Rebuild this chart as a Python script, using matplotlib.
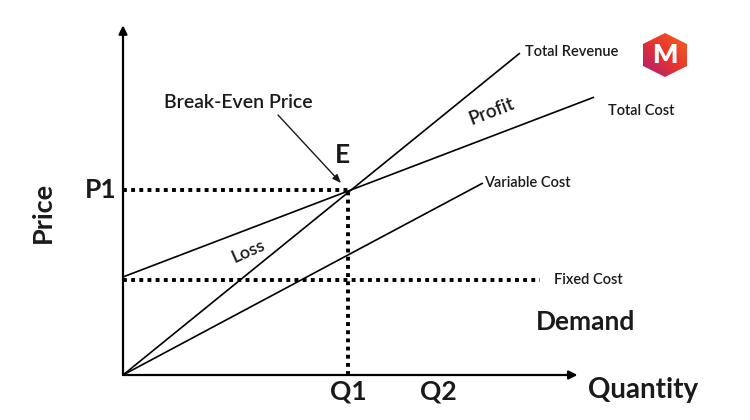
import numpy as np
import matplotlib
matplotlib.use("Agg")
import matplotlib.pyplot as plt
from matplotlib.patches import Polygon
from matplotlib.colors import LinearSegmentedColormap

# ---- data (quantity units, price units) ----
total_revenue_q = [0.0, 8.82]
total_revenue_p = [0.0, 8.70]
total_cost_q = [0.0, 10.47]
total_cost_p = [2.65, 7.51]
variable_cost_q = [0.0, 8.00]
variable_cost_p = [0.0, 5.19]
fixed_cost_value = 2.57
fixed_cost_end_q = 9.27
break_even_q = 5.0
break_even_p = 5.0
q_tick_values = [5.0, 7.0]
q_tick_labels = ["Q1", "Q2"]
p_tick_values = [5.0]
p_tick_labels = ["P1"]
x_axis_end = 10.1
y_axis_end = 9.45

plt.rcParams['font.family'] = ['Lato', 'DejaVu Sans']
TXT = '#1a1a1a'

fig = plt.figure(figsize=(7.5, 4.2), dpi=100)
ax = fig.add_axes([0, 0, 1, 1])
# map: px = 123 + 45*q ; py(from bottom) = 45 + 37*p
ax.set_xlim(-123 / 45, (750 - 123) / 45)
ax.set_ylim(-45 / 37, (420 - 45) / 37)
ax.axis('off')

# axes arrows
arrow_kw = dict(arrowstyle='-|>,head_length=0.5,head_width=0.25', color='black', lw=1.6,
                shrinkA=0, shrinkB=0)
ax.annotate('', xy=(x_axis_end, 0), xytext=(0, 0), arrowprops=arrow_kw)
ax.annotate('', xy=(0, y_axis_end), xytext=(0, 0), arrowprops=arrow_kw)

# lines
lw = 1.2
ax.plot(total_revenue_q, total_revenue_p, color='black', lw=lw, solid_capstyle='butt')
ax.plot(total_cost_q, total_cost_p, color='black', lw=lw, solid_capstyle='butt')
ax.plot(variable_cost_q, variable_cost_p, color='black', lw=lw, solid_capstyle='butt')

dot_kw = dict(color='black', lw=2.8, linestyle=(0, (1, 1.1)), dash_capstyle='butt')
ax.plot([0, fixed_cost_end_q], [fixed_cost_value, fixed_cost_value], **dot_kw)
ax.plot([0, break_even_q], [break_even_p, break_even_p], **dot_kw)
ax.plot([break_even_q, break_even_q], [0, break_even_p], **dot_kw)

# line labels
small = dict(fontsize=10.5, fontweight='semibold', color=TXT, va='center', ha='left')
ax.annotate('Total Revenue', xy=(total_revenue_q[1], total_revenue_p[1]), xytext=(4, 1),
            textcoords='offset points', **small)
ax.annotate('Total Cost', xy=(total_cost_q[1], total_cost_p[1]), xytext=(10, -10),
            textcoords='offset points', **small)
ax.annotate('Variable Cost', xy=(variable_cost_q[1], variable_cost_p[1]), xytext=(1, 0),
            textcoords='offset points', **small)
ax.annotate('Fixed Cost', xy=(fixed_cost_end_q, fixed_cost_value), xytext=(10, 0),
            textcoords='offset points', **small)

# tick labels
for v, t in zip(q_tick_values, q_tick_labels):
    ax.annotate(t, xy=(v, 0), xytext=(0, -12), textcoords='offset points',
                ha='center', va='center', fontsize=19, fontweight='bold', color=TXT)
for v, t in zip(p_tick_values, p_tick_labels):
    ax.annotate(t, xy=(0, v), xytext=(-16, 0), textcoords='offset points',
                ha='center', va='center', fontsize=19, fontweight='bold', color=TXT)

# axis titles
ax.text((643 - 123) / 45, (420 - 390 - 45) / 37, 'Quantity', ha='center', va='center',
        fontsize=20, fontweight='bold', color=TXT)
ax.text((43 - 123) / 45, (420 - 212 - 45) / 37, 'Price', ha='center', va='center',
        rotation=90, fontsize=19.5, fontweight='bold', color=TXT)
ax.text((586 - 123) / 45, (420 - 322 - 45) / 37, 'Demand', ha='center', va='center',
        fontsize=19, fontweight='bold', color=TXT)

# E and break-even annotation
ax.annotate('E', xy=(break_even_q, break_even_p), xytext=(-4, 25), textcoords='offset points',
            ha='center', va='center', fontsize=19, fontweight='bold', color=TXT)
ax.annotate('', xy=((341 - 123) / 45, (420 - 183 - 45) / 37),
            xytext=((278 - 123) / 45, (420 - 115 - 45) / 37),
            arrowprops=dict(arrowstyle='-|>,head_length=0.5,head_width=0.2', color=TXT,
                            lw=1.0, shrinkA=0, shrinkB=0))
ax.text((238 - 123) / 45, (420 - 103 - 45) / 37, 'Break-Even Price', ha='center', va='center',
        fontsize=14, fontweight='semibold', color=TXT)

ax.text((492 - 123) / 45, (420 - 111 - 45) / 37, 'Profit', ha='center', va='center',
        rotation=21, fontsize=13.5, fontweight='semibold', color=TXT)
ax.text((248 - 123) / 45, (420 - 251 - 45) / 37, 'Loss', ha='center', va='center',
        rotation=24, fontsize=13, fontweight='semibold', color=TXT)

# logo
lax = fig.add_axes([643 / 750, (420 - 77) / 420, 44 / 750, 44 / 420])
lax.set_xlim(0, 1)
lax.set_ylim(0, 1)
lax.axis('off')
cmap = LinearSegmentedColormap.from_list('m', ['#a8207a', '#e8322f', '#f26522'])
gx, gy = np.meshgrid(np.linspace(0, 1, 100), np.linspace(0, 1, 100))
grad = (gx + (1 - gy)) / 2
img = lax.imshow(grad, extent=(0, 1, 0, 1), origin='upper', cmap=cmap, aspect='auto')
hexagon = Polygon([(0.5, 1.0), (1.0, 0.75), (1.0, 0.25), (0.5, 0.0), (0.0, 0.25), (0.0, 0.75)],
                  closed=True, transform=lax.transData, facecolor='none', edgecolor='none')
lax.add_patch(hexagon)
img.set_clip_path(hexagon)
lax.text(0.5, 0.5, 'M', ha='center', va='center', fontsize=19, fontweight='heavy',
         color='white')

fig.savefig('out.png', dpi=100)
